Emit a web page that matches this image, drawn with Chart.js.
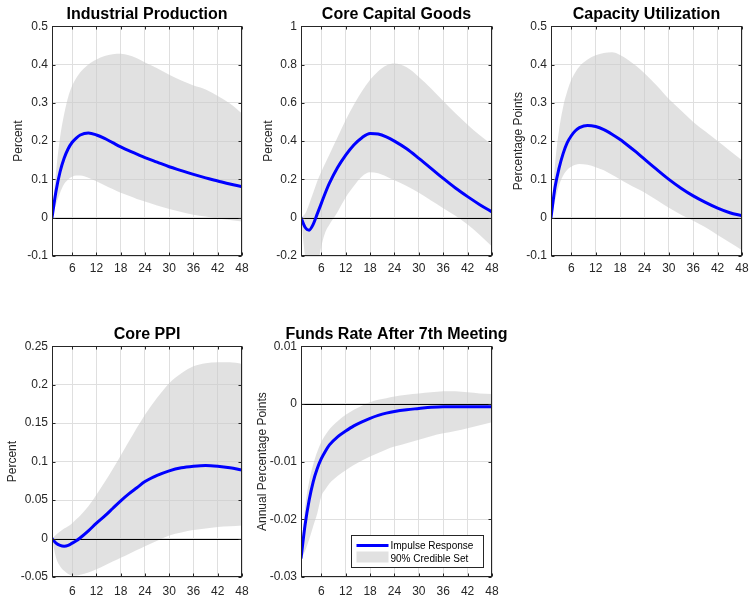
<!DOCTYPE html>
<html>
<head>
<meta charset="utf-8">
<script src="https://cdn.jsdelivr.net/npm/chart.js@4.4.0/dist/chart.umd.min.js"></script>
<style>
  body { margin: 0; background: #fff; width: 750px; height: 595px; position: relative; overflow: hidden; }
  canvas { position: absolute; }
</style>
</head>
<body>
<canvas id="ip" width="294" height="280" style="left:0;top:0"></canvas>
<canvas id="ccg" width="293" height="280" style="left:250px;top:0"></canvas>
<canvas id="cu" width="293" height="280" style="left:500px;top:0"></canvas>
<canvas id="ppi" width="294" height="275" style="left:0;top:320px"></canvas>
<canvas id="ffr" width="293" height="275" style="left:250px;top:320px"></canvas>
<script>
// months after the shock
const horizons = [1, 2, 3, 4, 5, 6, 7, 8, 10, 12, 14, 16, 18, 20, 22, 24, 27, 30, 33, 36, 39, 42, 45, 48];
const monthTicks = [6, 12, 18, 24, 30, 36, 42, 48];

// Industrial Production
const ipMid = [0, 0.07, 0.12, 0.155, 0.18, 0.197, 0.208, 0.216, 0.221, 0.216, 0.207, 0.196, 0.185, 0.175, 0.166, 0.157, 0.145, 0.133, 0.123, 0.113, 0.104, 0.096, 0.088, 0.081];
const ipUpper = [0, 0.12, 0.21, 0.27, 0.315, 0.345, 0.365, 0.38, 0.4, 0.413, 0.422, 0.427, 0.428, 0.424, 0.416, 0.405, 0.39, 0.373, 0.358, 0.345, 0.335, 0.318, 0.298, 0.272];
const ipLower = [0, 0.035, 0.065, 0.088, 0.1, 0.107, 0.11, 0.11, 0.104, 0.095, 0.085, 0.075, 0.065, 0.057, 0.049, 0.042, 0.032, 0.023, 0.015, 0.008, 0.003, -0.002, -0.006, -0.01];

// Core Capital Goods
const ccgMid = [0, -0.05, -0.065, -0.035, 0.02, 0.075, 0.13, 0.18, 0.262, 0.327, 0.38, 0.418, 0.44, 0.437, 0.422, 0.4, 0.36, 0.31, 0.258, 0.205, 0.155, 0.11, 0.068, 0.03];
const ccgUpper = [0, 0.02, 0.07, 0.13, 0.19, 0.24, 0.285, 0.33, 0.42, 0.51, 0.59, 0.66, 0.72, 0.765, 0.795, 0.805, 0.785, 0.735, 0.675, 0.61, 0.545, 0.485, 0.43, 0.38];
const ccgLower = [0, -0.2, -0.3, -0.32, -0.26, -0.15, -0.075, -0.035, 0.03, 0.105, 0.165, 0.215, 0.237, 0.232, 0.215, 0.195, 0.165, 0.13, 0.09, 0.05, 0.01, -0.035, -0.09, -0.15];

// Capacity Utilization
const cuMid = [0, 0.08, 0.13, 0.168, 0.196, 0.214, 0.227, 0.235, 0.241, 0.238, 0.23, 0.218, 0.204, 0.188, 0.171, 0.153, 0.126, 0.1, 0.077, 0.057, 0.04, 0.025, 0.013, 0.005];
const cuUpper = [0, 0.14, 0.23, 0.29, 0.33, 0.36, 0.38, 0.395, 0.413, 0.424, 0.43, 0.432, 0.425, 0.412, 0.396, 0.377, 0.345, 0.31, 0.28, 0.25, 0.225, 0.2, 0.175, 0.15];
const cuLower = [0, 0.045, 0.085, 0.11, 0.125, 0.133, 0.138, 0.14, 0.138, 0.132, 0.124, 0.112, 0.1, 0.088, 0.077, 0.066, 0.046, 0.026, 0.008, -0.008, -0.025, -0.045, -0.065, -0.085];

// Core PPI
const ppiMid = [0, -0.006, -0.009, -0.01, -0.009, -0.006, -0.003, 0.001, 0.01, 0.02, 0.029, 0.039, 0.049, 0.058, 0.066, 0.074, 0.082, 0.088, 0.092, 0.094, 0.095, 0.094, 0.092, 0.089];
const ppiUpper = [0, 0.005, 0.009, 0.013, 0.016, 0.02, 0.025, 0.03, 0.042, 0.057, 0.073, 0.09, 0.108, 0.126, 0.144, 0.161, 0.183, 0.202, 0.215, 0.224, 0.228, 0.229, 0.229, 0.227];
const ppiLower = [0, -0.025, -0.036, -0.042, -0.046, -0.048, -0.048, -0.047, -0.044, -0.04, -0.035, -0.03, -0.025, -0.02, -0.015, -0.01, -0.003, 0.004, 0.008, 0.011, 0.013, 0.015, 0.016, 0.017];

// Funds Rate After 7th Meeting
const ffrMid = [-0.0268, -0.021, -0.0167, -0.0135, -0.0112, -0.0095, -0.0082, -0.0071, -0.0057, -0.0047, -0.0038, -0.0031, -0.0025, -0.002, -0.0016, -0.0013, -0.001, -0.0008, -0.0006, -0.0005, -0.0005, -0.0005, -0.0005, -0.0005];
const ffrUpper = [-0.0265, -0.018, -0.0135, -0.0105, -0.0083, -0.0066, -0.0054, -0.0044, -0.003, -0.0019, -0.001, -0.0003, 0.0003, 0.0007, 0.001, 0.0013, 0.0016, 0.0018, 0.002, 0.0022, 0.0022, 0.002, 0.0018, 0.0017];
const ffrLower = [-0.027, -0.0255, -0.0235, -0.0212, -0.019, -0.016, -0.0148, -0.0138, -0.0125, -0.0115, -0.0106, -0.0098, -0.0091, -0.0085, -0.0079, -0.0074, -0.0068, -0.0062, -0.0056, -0.0051, -0.0047, -0.0042, -0.0037, -0.0032];

const BLUE = '#0000ff';
const BAND = 'rgba(200, 200, 200, 0.55)';
const AXIS = '#262626';

Chart.defaults.font.family = "'Liberation Sans', Arial, sans-serif";
Chart.defaults.color = AXIS;
Chart.defaults.animation = false;

// matlab style box, inward ticks and the zero line
const frame = {
  id: 'frame',
  beforeDatasetDraw(chart, args) {
    if (args.index !== 0) return; // just before the blue line
    const { ctx, chartArea: a, scales } = chart;
    const y0 = Math.round(scales.y.getPixelForValue(0)) + 0.5;
    ctx.save();
    ctx.strokeStyle = '#000';
    ctx.lineWidth = 1.2;
    ctx.beginPath();
    ctx.moveTo(a.left, y0);
    ctx.lineTo(a.right, y0);
    ctx.stroke();
    ctx.restore();
  },
  afterDraw(chart) {
    const { ctx, chartArea: a, scales: { x, y } } = chart;
    const L = Math.round(a.left) + 0.5, R = Math.round(a.right) - 0.5;
    const T = Math.round(a.top) + 0.5, B = Math.round(a.bottom) - 0.5;
    ctx.save();
    ctx.strokeStyle = AXIS;
    ctx.lineWidth = 1;
    ctx.beginPath();
    x.ticks.forEach((t) => {
      const px = Math.round(x.getPixelForValue(t.value)) + 0.5;
      ctx.moveTo(px, B); ctx.lineTo(px, B - 3);
      ctx.moveTo(px, T); ctx.lineTo(px, T + 3);
    });
    y.ticks.forEach((t) => {
      const py = Math.round(y.getPixelForValue(t.value)) + 0.5;
      ctx.moveTo(L, py); ctx.lineTo(L + 3, py);
      ctx.moveTo(R, py); ctx.lineTo(R - 3, py);
    });
    ctx.stroke();
    ctx.strokeRect(L, T, R - L, B - T);
    ctx.restore();
  },
};
Chart.register(frame);

// legend box inside the last panel
const boxLegend = {
  id: 'boxLegend',
  afterDraw(chart) {
    const { ctx, chartArea: a } = chart;
    const ds = chart.data.datasets;
    const w = 132, h = 32;
    const x0 = Math.round(a.right - 9 - w) + 0.5;
    const y0 = Math.round(a.bottom - 10 - h) + 0.5;
    ctx.save();
    ctx.fillStyle = '#fff';
    ctx.fillRect(x0, y0, w, h);
    ctx.strokeStyle = AXIS;
    ctx.lineWidth = 1;
    ctx.strokeRect(x0, y0, w, h);
    ctx.strokeStyle = ds[0].borderColor;
    ctx.lineWidth = 3;
    ctx.beginPath();
    ctx.moveTo(x0 + 5, y0 + 10);
    ctx.lineTo(x0 + 37, y0 + 10);
    ctx.stroke();
    ctx.fillStyle = ds[1].backgroundColor;
    ctx.fillRect(x0 + 5, y0 + 16, 32, 11);
    ctx.fillStyle = '#000';
    ctx.font = "10px 'Liberation Sans', Arial, sans-serif";
    ctx.textBaseline = 'middle';
    ctx.fillText(ds[0].label, x0 + 39, y0 + 11);
    ctx.fillText(ds[1].label, x0 + 39, y0 + 24);
    ctx.restore();
  },
};

function makePanel(id, p) {
  const pts = (vals) => horizons.map((h, i) => ({ x: h, y: vals[i] }));
  return new Chart(document.getElementById(id), {
    type: 'line',
    data: {
      datasets: [
        {
          label: 'Impulse Response',
          data: pts(p.mid),
          borderColor: BLUE,
          borderWidth: 3,
          pointRadius: 0,
          cubicInterpolationMode: 'monotone',
          fill: false,
        },
        {
          label: '90% Credible Set',
          data: pts(p.upper),
          borderColor: 'rgba(0,0,0,0)',
          backgroundColor: BAND,
          pointRadius: 0,
          cubicInterpolationMode: 'monotone',
          fill: '+1',
        },
        {
          label: 'lower',
          data: pts(p.lower),
          borderColor: 'rgba(0,0,0,0)',
          pointRadius: 0,
          cubicInterpolationMode: 'monotone',
          fill: false,
        },
      ],
    },
    plugins: p.legend ? [boxLegend] : [],
    options: {
      responsive: false,
      devicePixelRatio: 1,
      layout: { padding: 0 },
      plugins: {
        legend: { display: false },
        tooltip: { enabled: false },
        title: {
          display: true,
          text: p.title,
          color: '#000',
          font: { size: 16, weight: 'bold' },
          padding: { top: 5, bottom: 2 },
        },
      },
      scales: {
        x: {
          type: 'linear',
          min: 1,
          max: 48,
          afterBuildTicks: (s) => { s.ticks = monthTicks.map((v) => ({ value: v })); },
          afterFit: (s) => { s.height = p.xHeight; s.paddingLeft = 0; s.paddingRight = 0; },
          grid: { color: '#dfdfdf', drawTicks: false },
          border: { display: false },
          ticks: { font: { size: 12 }, color: AXIS, padding: p.xPad, maxRotation: 0 },
        },
        y: {
          min: p.yMin,
          max: p.yMax,
          afterFit: (s) => { s.width = p.yWidth; s.paddingTop = 0; s.paddingBottom = 0; },
          grid: { color: '#dfdfdf', drawTicks: false },
          border: { display: false },
          ticks: {
            stepSize: p.yStep,
            font: { size: 12 },
            color: AXIS,
            padding: 4,
            callback: (v) => String(+v.toFixed(4)),
          },
          title: {
            display: true,
            text: p.yTitle,
            color: AXIS,
            font: { size: 12 },
            padding: { top: p.yTitlePad, bottom: 0 },
          },
        },
        // empty right-hand spacer so the title sits centred over the plot
        spacer: {
          position: 'right',
          afterFit: (s) => { s.width = p.yWidth; s.paddingTop = 0; s.paddingBottom = 0; },
          ticks: { display: false },
          grid: { display: false },
          border: { display: false },
        },
      },
    },
  });
}

makePanel('ip', {
  title: 'Industrial Production', yTitle: 'Percent',
  mid: ipMid, upper: ipUpper, lower: ipLower,
  yMin: -0.1, yMax: 0.5, yStep: 0.1,
  yWidth: 52, xHeight: 24, xPad: 5, yTitlePad: 11,
});
makePanel('ccg', {
  title: 'Core Capital Goods', yTitle: 'Percent',
  mid: ccgMid, upper: ccgUpper, lower: ccgLower,
  yMin: -0.2, yMax: 1, yStep: 0.2,
  yWidth: 51, xHeight: 24, xPad: 5, yTitlePad: 11,
});
makePanel('cu', {
  title: 'Capacity Utilization', yTitle: 'Percentage Points',
  mid: cuMid, upper: cuUpper, lower: cuLower,
  yMin: -0.1, yMax: 0.5, yStep: 0.1,
  yWidth: 51, xHeight: 24, xPad: 5, yTitlePad: 11,
});
makePanel('ppi', {
  title: 'Core PPI', yTitle: 'Percent',
  mid: ppiMid, upper: ppiUpper, lower: ppiLower,
  yMin: -0.05, yMax: 0.25, yStep: 0.05,
  yWidth: 52, xHeight: 18, xPad: 7, yTitlePad: 5,
});
makePanel('ffr', {
  title: 'Funds Rate After 7th Meeting', yTitle: 'Annual Percentage Points',
  mid: ffrMid, upper: ffrUpper, lower: ffrLower,
  yMin: -0.03, yMax: 0.01, yStep: 0.01,
  yWidth: 51, xHeight: 18, xPad: 7, yTitlePad: 5,
  legend: true,
});
</script>
</body>
</html>
